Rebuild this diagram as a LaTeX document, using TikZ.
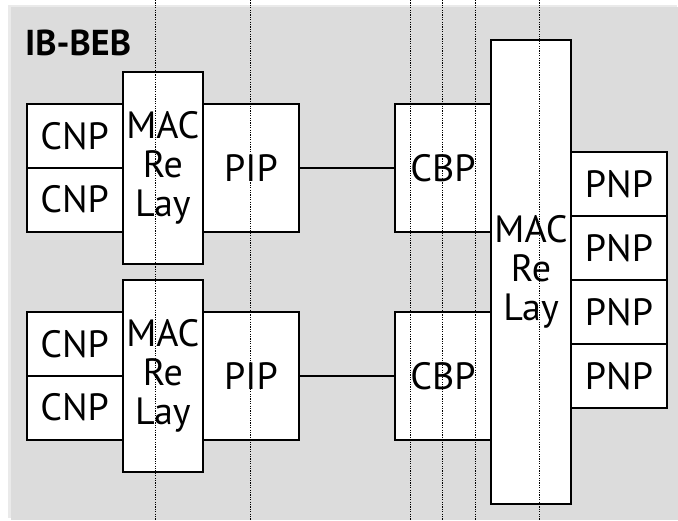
\documentclass[tikz,border=0pt]{standalone}
\usepackage{fontspec}
\setmainfont{PT Sans}
\definecolor{bggray}{HTML}{DCDCDC}
\definecolor{bglight}{HTML}{EAEAEA}
\tikzset{
  box/.style={draw=black, line width=2pt, fill=white, inner sep=0pt, outer sep=0pt,
    anchor=north west, align=center, font=\fontsize{38}{39}\selectfont},
  link/.style={draw=black, line width=2pt},
  guide/.style={draw=black, line width=1pt, dash pattern=on 1.2pt off 1.2pt},
}
\begin{document}
\begin{tikzpicture}[x=1pt,y=-1pt]
\useasboundingbox (0,0) rectangle (678,520);
\fill[bglight] (8,5) rectangle (677,518);
\fill[bggray] (11,7.3) rectangle (678,520);
\node[anchor=base west, font=\fontsize{36}{39}\selectfont\bfseries, inner sep=0pt] (title) at (25,55) {IB-BEB};
% top group
\node[box, minimum width=96pt, minimum height=63.5pt] (cnp1) at (26.7,104) {CNP};
\node[box, minimum width=96pt, minimum height=64.2pt] (cnp2) at (26.7,167.5) {CNP};
\node[box, minimum width=96pt, minimum height=127.7pt] (pipA) at (203,104) {PIP};
\node[box, minimum width=80.3pt, minimum height=192.3pt] (macA) at (122.7,71.7) {MAC\\Re\\Lay};
\node[box, minimum width=96pt, minimum height=127.7pt] (cbpA) at (395,104) {CBP};
% bottom group
\node[box, minimum width=96pt, minimum height=63.5pt] (cnp3) at (26.7,312) {CNP};
\node[box, minimum width=96pt, minimum height=64.2pt] (cnp4) at (26.7,375.5) {CNP};
\node[box, minimum width=96pt, minimum height=127.7pt] (pipB) at (203,312) {PIP};
\node[box, minimum width=80.3pt, minimum height=192.3pt] (macB) at (122.7,279.7) {MAC\\Re\\Lay};
\node[box, minimum width=96pt, minimum height=127.7pt] (cbpB) at (395,312) {CBP};
% big relay and PNPs
\node[box, minimum width=80pt, minimum height=464pt] (macC) at (491,40) {MAC\\Re\\Lay};
\node[box, minimum width=96pt, minimum height=64pt] (pnp1) at (571,152) {PNP};
\node[box, minimum width=96pt, minimum height=64pt] (pnp2) at (571,216) {PNP};
\node[box, minimum width=96pt, minimum height=64pt] (pnp3) at (571,280) {PNP};
\node[box, minimum width=96pt, minimum height=64pt] (pnp4) at (571,344) {PNP};
% links
\draw[link] (pipA.east) -- (cbpA.west);
\draw[link] (pipB.east) -- (cbpB.west);
% dotted guides
\foreach \gx/\gn in {155/g1,250.7/g2,410.7/g3,442.7/g4,475/g5,539.3/g6}{
  \coordinate (\gn t) at (\gx,0);
  \coordinate (\gn b) at (\gx,520);
  \draw[guide] (\gn t) -- (\gn b);
}
\end{tikzpicture}
\end{document}
